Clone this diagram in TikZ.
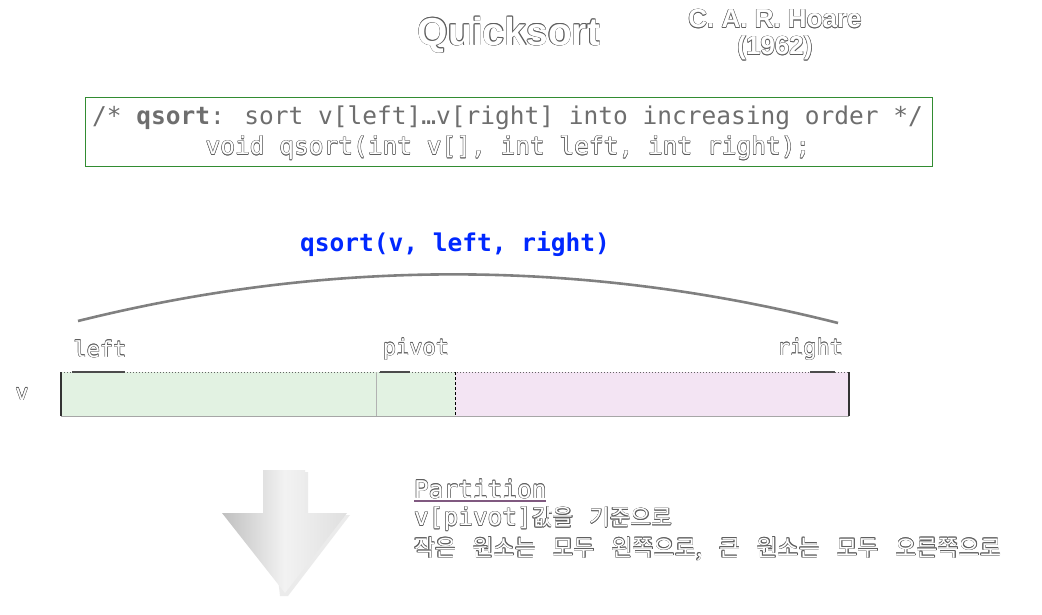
\documentclass[tikz,border=0pt]{standalone}
\usepackage{fontspec}
\setmainfont{Liberation Sans}
\newfontfamily\mono{DejaVu Sans Mono}
\newfontfamily\kr{Noto Sans CJK KR}[WordSpace=3.2]
\definecolor{olgray}{RGB}{95,95,95}
\definecolor{codegray}{RGB}{110,110,110}
\definecolor{boxgreen}{RGB}{50,140,50}
\definecolor{qblue}{RGB}{0,40,255}
\definecolor{cellgreen}{RGB}{226,242,226}
\definecolor{cellpink}{RGB}{243,228,243}
\definecolor{arcgray}{RGB}{128,128,128}
\newcommand{\olcp}[3]{\rlap{\hspace*{#1}\raisebox{#2}{#3}}}
\newcommand{\outl}[1]{\leavevmode{\color{olgray}%
  \olcp{0.5pt}{0pt}{#1}\olcp{-0.5pt}{0pt}{#1}\olcp{0pt}{0.5pt}{#1}\olcp{0pt}{-0.5pt}{#1}%
  \olcp{0.35pt}{0.35pt}{#1}\olcp{-0.35pt}{0.35pt}{#1}\olcp{0.35pt}{-0.35pt}{#1}\olcp{-0.35pt}{-0.35pt}{#1}}%
  \textcolor{white}{#1}}
\tikzset{
  txt/.style={inner sep=0pt, outer sep=0pt},
  codefont/.style={font=\mono\fontsize{24.5}{28}\selectfont},
  lblfont/.style={font=\mono\fontsize{22}{26}\selectfont},
}
\begin{document}
\begin{tikzpicture}[x=1pt,y=-1pt]
\useasboundingbox (0,0) rectangle (1042,614);
\fill[white] (0,0) rectangle (1042,614);

% titles
\node[txt, font=\bfseries\fontsize{39}{42}\selectfont] (title) at (509,35) {\outl{Quicksort}};
\node[txt, font=\bfseries\fontsize{26}{28}\selectfont] (author) at (775,19) {\outl{C. A. R. Hoare}};
\node[txt, font=\bfseries\fontsize{26}{28}\selectfont] (year) at (775,48) {\outl{(1962)}};

% code box
\draw[boxgreen, line width=1pt] (85,97) rectangle (932,166);
\node[txt, codefont, text=codegray] (comment) at (507.5,118) {/* \textbf{qsort}: sort v[left]…v[right] into increasing order */};
\node[txt, codefont] (proto) at (508,148) {\outl{void qsort(int v[], int left, int right);}};

% call label and arc
\node[txt, text=qblue, font=\mono\bfseries\fontsize{24.5}{28}\selectfont] (call) at (455,244) {qsort(v, left, right)};
\coordinate (arcL) at (78,321);
\coordinate (arcR) at (838,323);
\draw[arcgray, line width=2.6pt] (arcL) .. controls (331,258) and (585,259) .. (arcR);

% array labels
\node[txt, lblfont] (lleft) at (100,349) {\outl{left}};
\node[txt, lblfont] (lpivot) at (416,349) {\outl{pivot}};
\node[txt, lblfont] (lright) at (810,349) {\outl{right}};
\node[txt, lblfont] (lv) at (22,394) {\outl{v}};

% array bar
\fill[cellgreen] (61,372) rectangle (376,416);
\fill[cellgreen] (376,372) rectangle (455,416);
\fill[cellpink] (455,372) rectangle (849,416);
\draw[gray!70, line width=1pt] (61,416) -- (849,416);
\draw[gray!80!black, line width=1pt, dotted] (61,372) -- (849,372);
\draw[gray!60!black, line width=1.2pt] (72,372) -- (125,372);
\draw[gray!60!black, line width=1.2pt] (380,372) -- (410,372);
\draw[gray!60!black, line width=1.2pt] (810,372) -- (835,372);
\draw[gray!40!black, line width=1.2pt] (61,372) -- (61,416);
\draw[gray!60, line width=1pt] (376,372) -- (376,416);
\draw[black, line width=1pt, densely dashed] (455,372) -- (455,416);
\draw[gray!40!black, line width=1.2pt] (849,372) -- (849,416);

% big arrow
\fill[gray!30, opacity=0.5] (266,472) -- (308,472) -- (308,515) -- (350,515) -- (288,596) -- (280,596) -- cycle;
\shade[left color=gray!50, right color=gray!25, middle color=gray!10]
  (263,470) -- (305,470) -- (305,513) -- (347,513) -- (285,593) -- (222,513) -- (263,513) -- cycle;

% partition text
\node[txt, font=\mono\fontsize{24.5}{28}\selectfont, anchor=west] (part) at (414,489) {\outl{Partition}};
\draw[gray!70!violet, line width=1.5pt] (414,501) -- (546,501);
\node[txt, anchor=west] (line2) at (414,519) {\outl{\mono\fontsize{24.5}{28}\selectfont v[pivot]\kr\fontsize{22.5}{26}\selectfont 값을 기준으로}};
\node[txt, anchor=west] (line3) at (414,549) {\outl{\kr\fontsize{23}{26}\selectfont 작은 원소는 모두 왼쪽으로, 큰 원소는 모두 오른쪽으로}};
\end{tikzpicture}
\end{document}
